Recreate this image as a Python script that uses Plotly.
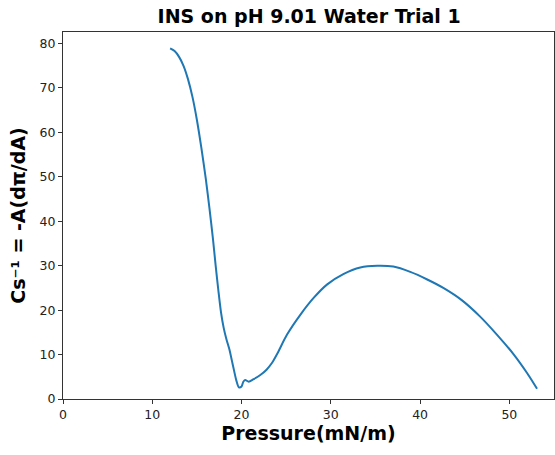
import plotly.graph_objects as go

pressure = [12.0, 12.5, 13.0, 13.5, 14.0, 14.5, 15.0, 15.5, 16.0, 16.4, 16.8, 17.1,
            17.4, 17.7, 18.0, 18.3, 18.65, 18.9, 19.15, 19.4, 19.7, 20.0, 20.2, 20.4,
            20.8, 21.3, 22.1, 22.8, 23.4, 24.0, 25.1, 26.6, 28.1, 29.6, 31.4, 33.3,
            35.2, 37.0, 38.9, 40.8, 42.6, 44.7, 46.7, 48.6, 50.5, 52.0, 52.7, 53.1]
cs_inv = [78.9, 78.3, 77.0, 75.0, 72.0, 68.0, 62.8, 56.5, 49.5, 43.0, 36.0, 30.0,
          24.5, 19.5, 16.0, 13.5, 11.1, 8.8, 6.5, 4.3, 2.6, 2.8, 3.9, 4.3,
          3.9, 4.4, 5.4, 6.6, 8.1, 10.2, 14.5, 19.0, 22.8, 25.8, 28.1, 29.6,
          30.0, 29.8, 28.6, 26.9, 25.0, 22.2, 18.6, 14.5, 10.0, 5.8, 3.6, 2.3]

x_ticks = [0, 10, 20, 30, 40, 50]
y_ticks = [0, 10, 20, 30, 40, 50, 60, 70, 80]

fig = go.Figure()
fig.add_trace(go.Scatter(x=pressure, y=cs_inv, mode="lines",
                         line=dict(color="#1f77b4", width=2, shape="spline", smoothing=0.8),
                         showlegend=False))

axis_common = dict(showline=True, mirror=True, linecolor="#333333", linewidth=1,
                   ticks="outside", ticklen=4, tickcolor="#333333", showgrid=False,
                   zeroline=False, automargin=False,
                   tickfont=dict(family="DejaVu Sans", size=12.5, color="#222222"))

fig.update_layout(
    width=555, height=455,
    margin=dict(l=63, r=1, t=32, b=56, autoexpand=False),
    paper_bgcolor="white", plot_bgcolor="white",
    title=dict(text="<b>INS on pH 9.01 Water Trial 1</b>", x=0.557, xanchor="center",
               y=0.965, yanchor="middle",
               font=dict(family="DejaVu Sans", size=19, color="black")),
    xaxis=dict(range=[0, 55.0], tickvals=x_ticks,
               title=dict(text="<b>Pressure(mN/m)</b>", standoff=4,
                          font=dict(family="DejaVu Sans", size=19, color="black")),
               **axis_common),
    yaxis=dict(range=[0, 82.6], tickvals=y_ticks,
               title=dict(text="<b>Cs⁻¹ = -A(dπ/dA)</b>", standoff=8,
                          font=dict(family="DejaVu Sans", size=19, color="black")),
               **axis_common),
)

fig.write_html("out.html", config={"displayModeBar": False},
               post_script="document.body.style.margin='0';document.body.style.overflow='hidden';")
